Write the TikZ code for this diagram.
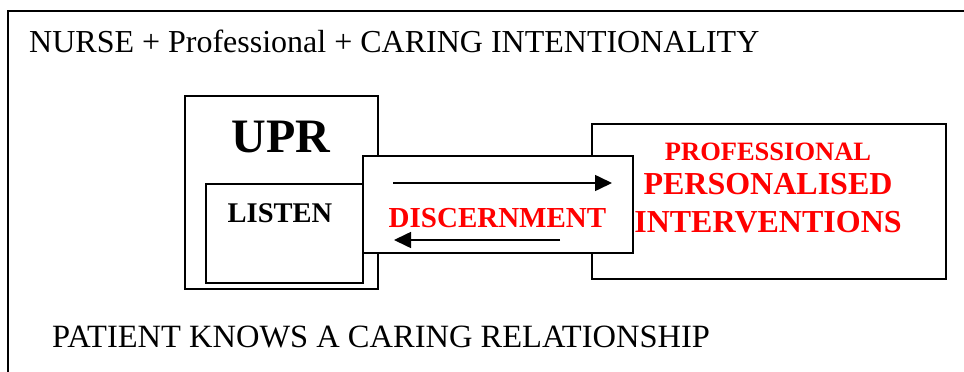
\documentclass[tikz,border=0pt]{standalone}
\usepackage{fontspec}
\setmainfont{Liberation Serif}
\usetikzlibrary{arrows.meta}
\definecolor{rrqqqq}{rgb}{1,0,0}

\tikzset{
  box/.style={draw=black,line width=1.6pt,rectangle,inner sep=0pt},
  lbl/.style={inner sep=0pt,anchor=base},
}
\newcommand{\fs}[1]{\fontsize{#1}{#1}\selectfont}

\begin{document}
\begin{tikzpicture}[line cap=rect,line join=miter,x=1pt,y=-1pt,
    >={Triangle[length=17pt,width=16pt]}]
      \useasboundingbox (0,0) rectangle (964,372);
      \clip (0,0) rectangle (964,372);
      % outer frame, runs off the right and bottom
      \draw[line width=1.6pt] (8,390) -- (8,11) -- (980,11);
      \node[lbl,anchor=base west] (nurse) at (29,52) {\fs{32}NURSE + Professional + CARING INTENTIONALITY};
      % boxes
      \node[box,minimum width=193pt,minimum height=193pt] (upr) at (281.5,192.5) {};
      \node[box,minimum width=157pt,minimum height=99pt] (listen) at (284.5,233.5) {};
      \node[box,minimum width=354pt,minimum height=155pt] (interv) at (769,201.5) {};
      \node[box,fill=white,minimum width=270pt,minimum height=97pt] (discern) at (498,204.5) {};
      % arrows inside the discernment box
      \coordinate (fwdA) at (393,183);
      \coordinate (fwdB) at (612,183);
      \coordinate (bckA) at (560,240);
      \coordinate (bckB) at (394,240);
      \draw[->,line width=1.6pt,line cap=butt] (fwdA) -- (fwdB);
      \draw[->,line width=1.6pt,line cap=butt] (bckA) -- (bckB);
      % labels
      \node[lbl] (uprtext) at (281,152) {\fs{48}\bfseries UPR};
      \node[lbl] (listentext) at (280,222) {\fs{28.5}\bfseries LISTEN};
      \node[lbl,text=rrqqqq] (discerntext) at (497.5,227) {\fs{29}\bfseries DISCERNMENT};
      \node[lbl,text=rrqqqq] (prof) at (768,160) {\fs{26.5}\bfseries PROFESSIONAL};
      \node[lbl,text=rrqqqq] (pers) at (768,194) {\fs{32}\bfseries PERSONALISED};
      \node[lbl,text=rrqqqq] (intv) at (768,232) {\fs{32}\bfseries INTERVENTIONS};
      \node[lbl,anchor=base west] (patient) at (52,347) {\fs{32.5}PATIENT KNOWS A CARING RELATIONSHIP};
\end{tikzpicture}
\end{document}
